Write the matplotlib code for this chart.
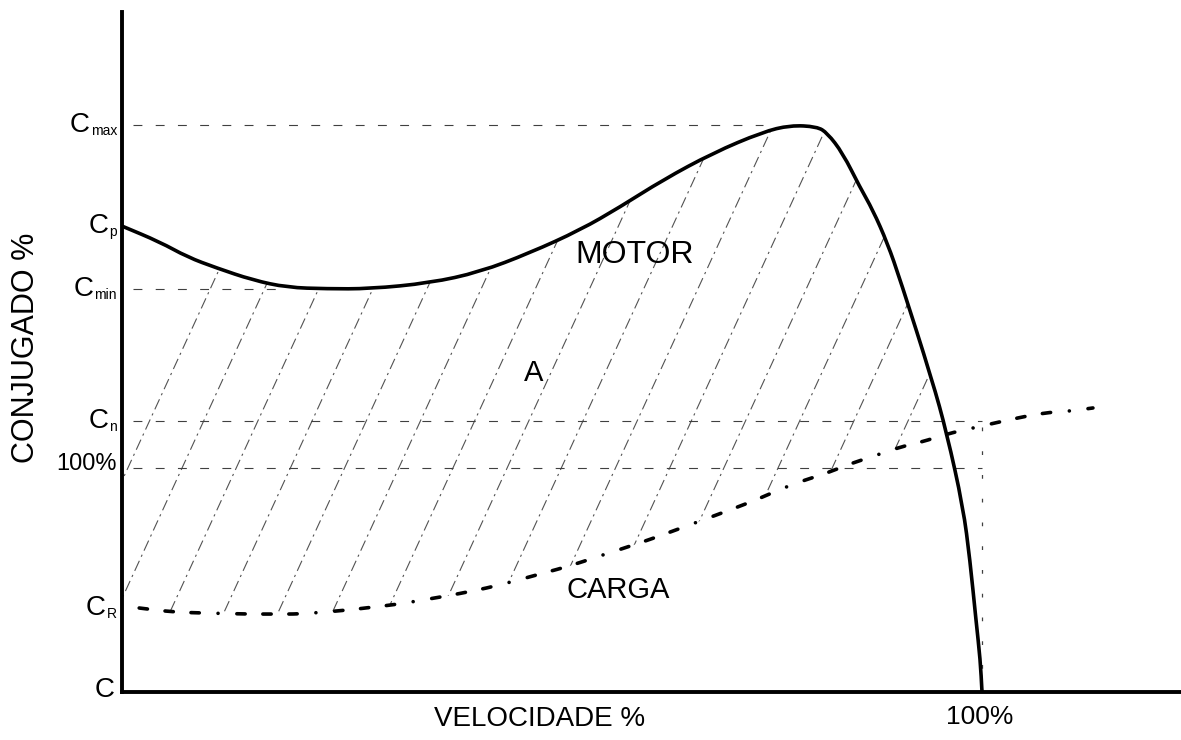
import numpy as np
import matplotlib
matplotlib.use("Agg")
import matplotlib.pyplot as plt
import matplotlib.transforms as mtransforms
from matplotlib.patches import Polygon, PathPatch
from matplotlib.path import Path

plt.rcParams["font.family"] = ["Liberation Sans", "DejaVu Sans"]

# Motor torque-speed curve (speed %, torque %)
motor_speed = [0, 4.4, 7.6, 11.0, 15.2, 19.2, 23.8, 28.8, 35.8, 41.6, 47.4,
               53.3, 57.9, 62.9, 68.7, 74.5, 77.7, 80.8, 82.0, 83.8, 85.8,
               87.3, 89.0, 90.5, 94.2, 95.9, 97.8, 98.6, 99.3, 99.8, 100]
motor_torque = [208, 200.9, 194.2, 189.3, 183.9, 180.6, 180, 180, 182.6,
                187.5, 196.0, 206.3, 216.5, 228.6, 240.6, 250.0, 253, 252.4,
                249.6, 240.6, 225.4, 215.2, 200.4, 183.9, 139.3, 115.6, 82.6,
                58.9, 32.1, 14.3, 0]

# Load torque-speed curve (speed %, torque %)
load_speed = [2.0, 5.9, 9.1, 14.5, 17.6, 20.7, 23.5, 26.3, 29.2, 32.3, 35.0,
              37.8, 40.8, 44.0, 49.0, 52.1, 55.2, 60.2, 63.1, 66.0, 71.0,
              74.0, 76.9, 79.4, 82.0, 84.9, 87.8, 90.5, 93.0, 95.9, 99.0,
              101.5, 104.1, 107.1, 110.2, 112.9]
load_torque = [37.5, 35.7, 35.3, 34.8, 34.8, 34.8, 35.7, 36.6, 37.9, 39.3,
               41.1, 42.9, 45.1, 47.8, 53.1, 56.3, 60.3, 66.5, 70.5, 74.6,
               81.7, 86.2, 91.1, 94.6, 97.8, 102.2, 105.8, 109.4, 111.6,
               115.2, 117.9, 120.1, 122.3, 124.6, 125.4, 126.8]

# Characteristic torque levels
level_subs = ["max", "p", "min", "n", "R"]
level_values = [253, 208, 180, 121, 37.5]
rated_torque = 100
# where each dashed guide line ends along the speed axis
guide_levels = [253, 180, 121, 100]
guide_ends = [74.5, 19.2, 100, 100]
sync_speed = 100
crossing_speed = 95.9


def smooth_path(xs, ys):
    """Quadratic Bezier path through segment midpoints, using the
    points themselves as control points."""
    pts = np.column_stack([xs, ys]).astype(float)
    verts = [pts[0], (pts[0] + pts[1]) / 2]
    codes = [Path.MOVETO, Path.LINETO]
    for i in range(1, len(pts) - 1):
        verts += [pts[i], (pts[i] + pts[i + 1]) / 2]
        codes += [Path.CURVE3, Path.CURVE3]
    verts.append(pts[-1])
    codes.append(Path.LINETO)
    return Path(np.array(verts), codes)


fig = plt.figure(figsize=(11.81, 7.40), dpi=100)
ax = fig.add_axes([122 / 1181, 48 / 740, 1059 / 1181, 680 / 740])
ax.set_xlim(0, 1059 / 8.6)
ax.set_ylim(0, 680 / 2.24)

for side in ("top", "right"):
    ax.spines[side].set_visible(False)
for side in ("left", "bottom"):
    ax.spines[side].set_linewidth(2.8)
    ax.spines[side].set_color("black")
    ax.spines[side].set_capstyle("projecting")
ax.set_xticks([])
ax.set_yticks([])

# Hatched area between the two curves (accelerating torque)
ms = np.array(motor_speed)
mt = np.array(motor_torque)
ls = np.array(load_speed)
lt = np.array(load_torque)
sel_m = ms <= crossing_speed
sel_l = ls <= crossing_speed
poly_x = np.concatenate([ms[sel_m], ls[sel_l][::-1], [0]])
poly_y = np.concatenate([mt[sel_m], lt[sel_l][::-1], [level_values[-1]]])
region = Polygon(np.column_stack([poly_x, poly_y]), closed=True,
                 facecolor="none", edgecolor="none")
ax.add_patch(region)

slope = 0.46 * 2.24 / 8.6
spacing = 6.3
for c in np.arange(39.1 - spacing * 8, 100, spacing):
    yy = np.array([0, 300])
    hl, = ax.plot(c + slope * yy, yy, color="0.32", lw=0.8,
                  linestyle=(0, (10, 4, 2, 4)))
    hl.set_clip_path(region)

# Dashed guide lines
for lvl, xe in zip(guide_levels, guide_ends):
    ax.plot([1.3, xe], [lvl, lvl], color="0.25", lw=0.8,
            linestyle=(0, (8, 12)))
ax.plot([sync_speed, sync_speed], [0, level_values[3]], color="0.25", lw=0.9,
        linestyle=(0, (3, 16)))

# Curves
motor = PathPatch(smooth_path(motor_speed, motor_torque), facecolor="none",
                  edgecolor="black", lw=2.6, capstyle="butt",
                  joinstyle="round", clip_on=False, zorder=5)
ax.add_patch(motor)
load = PathPatch(smooth_path(load_speed, load_torque), facecolor="none",
                 edgecolor="black", lw=2.6, capstyle="round", zorder=5,
                 linestyle=(0, (2.3, 4.9, 2.3, 4.9, 2.3, 5.2, 0.01, 5.2)))
ax.add_patch(load)

# Axis labels
blend = mtransforms.blended_transform_factory(ax.transAxes, ax.transData)
for lvl, sub in zip(level_values, level_subs):
    s = ax.annotate(sub, xy=(0, lvl), xycoords=blend, xytext=(-5, -10),
                    textcoords="offset pixels", ha="right", va="baseline",
                    fontsize=10)
    ax.annotate("C", xy=(0, 0), xycoords=s, xytext=(-1, 6),
                textcoords="offset pixels", ha="right", va="baseline",
                fontsize=20)
ax.annotate("100%", xy=(0, rated_torque), xycoords=blend, xytext=(-5, 4),
            textcoords="offset pixels", ha="right", va="center", fontsize=17)
ax.annotate("C", xy=(0, 0), xycoords=blend, xytext=(-7, 2),
            textcoords="offset pixels", ha="right", va="center", fontsize=20)
ax.annotate("100%", xy=(sync_speed, 0), xytext=(-2, -25),
            textcoords="offset pixels", ha="center", va="center", fontsize=19)

ax.text(-0.0902, 0.506, "CONJUGADO %", transform=ax.transAxes, rotation=90,
        ha="center", va="center", fontsize=22)
ax.text(0.3947, -0.040, "VELOCIDADE %", transform=ax.transAxes,
        ha="center", va="center", fontsize=20)

ax.text(59.65, 195.1, "MOTOR", ha="center", va="center", fontsize=23)
ax.text(47.9, 142.4, "A", ha="center", va="center", fontsize=21)
ax.text(57.7, 45.5, "CARGA", ha="center", va="center", fontsize=21)

fig.savefig("out.png", dpi=100, facecolor="white")
